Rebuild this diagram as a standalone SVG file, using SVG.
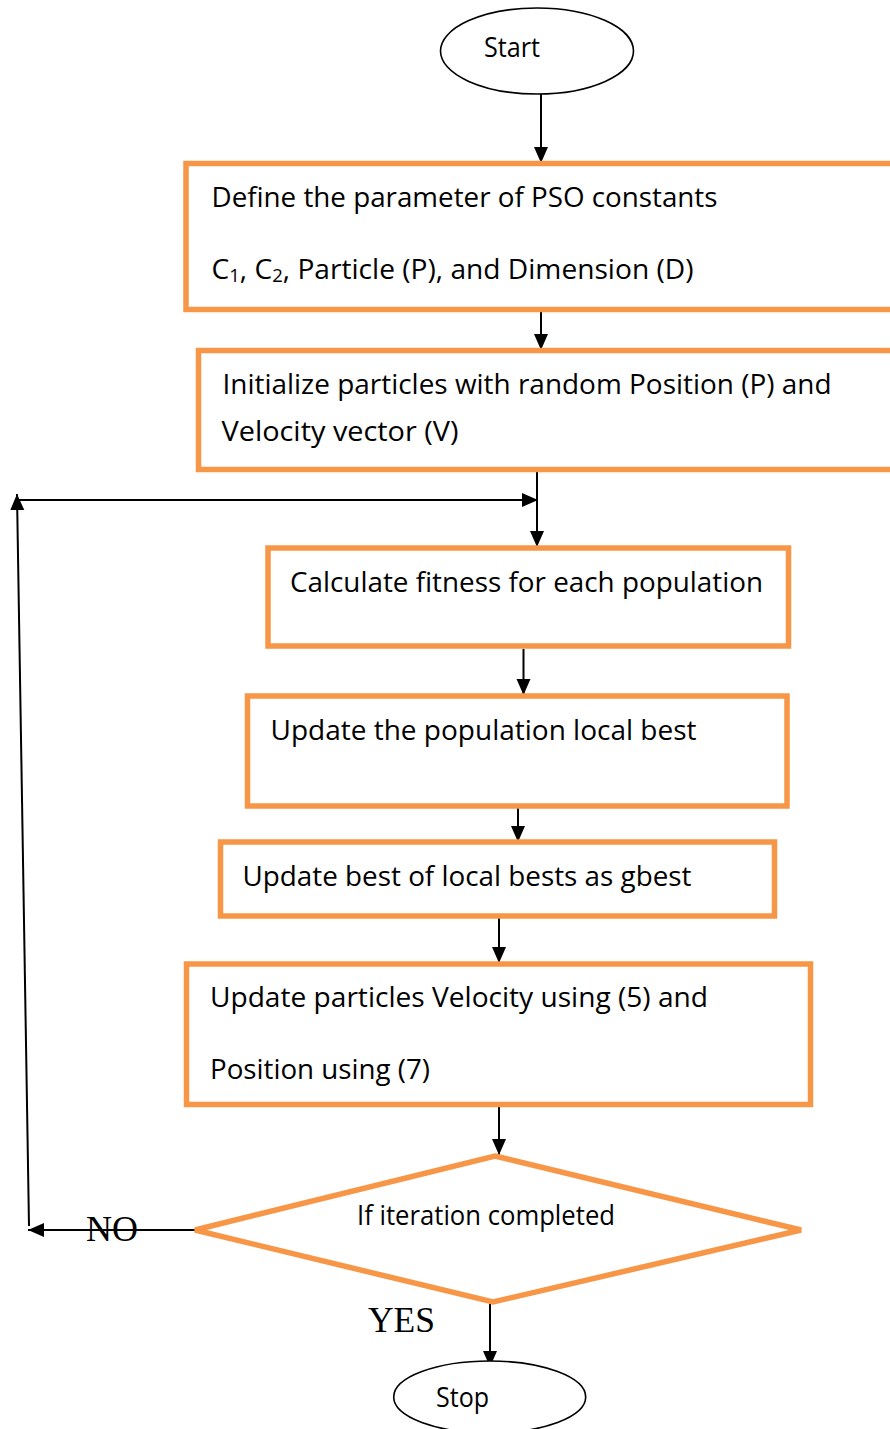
<svg xmlns="http://www.w3.org/2000/svg" width="890" height="1429" viewBox="0 0 890 1429">
  <style>
    .box { fill: #ffffff; stroke: #F79646; stroke-width: 5.5; }
    .term { fill: #ffffff; stroke: #000000; stroke-width: 1.6; }
    .lbl { font-family: "Open Sans", "Noto Sans", "Liberation Sans", sans-serif; font-size: 26.5px; fill: #000000; }
    .yn { font-family: "Liberation Serif", "Times New Roman", serif; font-size: 36px; fill: #000000; }
    .wire { fill: none; stroke: #000000; stroke-width: 2; }
  </style>
  <defs>
    <marker id="arrow" markerUnits="userSpaceOnUse" markerWidth="17" markerHeight="15" refX="16" refY="7" orient="auto">
      <path d="M0,0 L16,7 L0,14 Z" fill="#000000"/>
    </marker>
  </defs>

  <rect width="890" height="1429" fill="#ffffff"/>

  <!-- connectors -->
  <g id="connectors">
    <line class="wire" x1="541" y1="94" x2="541" y2="163" marker-end="url(#arrow)"/>
    <line class="wire" x1="541" y1="312" x2="541" y2="350" marker-end="url(#arrow)"/>
    <line class="wire" x1="537" y1="472" x2="537" y2="547" marker-end="url(#arrow)"/>
    <line class="wire" x1="523.5" y1="649" x2="523.5" y2="695" marker-end="url(#arrow)"/>
    <line class="wire" x1="518" y1="808" x2="518" y2="842" marker-end="url(#arrow)"/>
    <line class="wire" x1="499" y1="918" x2="499" y2="963" marker-end="url(#arrow)"/>
    <line class="wire" x1="499" y1="1107" x2="499" y2="1155" marker-end="url(#arrow)"/>
    <line class="wire" x1="490" y1="1304" x2="490" y2="1367" marker-end="url(#arrow)"/>
    <!-- NO branch loops back above the fitness step -->
    <line class="wire" x1="195" y1="1230" x2="28" y2="1230" marker-end="url(#arrow)"/>
    <line class="wire" x1="29" y1="1226" x2="17" y2="494" marker-end="url(#arrow)"/>
    <line class="wire" x1="17" y1="500" x2="538" y2="500" marker-end="url(#arrow)"/>
  </g>

  <g id="start">
    <ellipse class="term" cx="537" cy="51" rx="96.5" ry="43"/>
    <text class="lbl" x="484" y="57" textLength="56" lengthAdjust="spacingAndGlyphs">Start</text>
  </g>

  <g id="define-params">
    <rect class="box" x="186" y="163.5" width="720" height="146"/>
    <text class="lbl" x="211.5" y="207" textLength="506" lengthAdjust="spacingAndGlyphs">Define the parameter of PSO constants</text>
    <text class="lbl" x="211.5" y="278.5" textLength="482" lengthAdjust="spacingAndGlyphs">C<tspan font-size="17.5" dy="3">1</tspan><tspan dy="-3">, C</tspan><tspan font-size="17.5" dy="3">2</tspan><tspan dy="-3">, Particle (P), and Dimension (D)</tspan></text>
  </g>

  <g id="init-particles">
    <rect class="box" x="198.5" y="350.5" width="710" height="119"/>
    <text class="lbl" x="222.5" y="393.5" textLength="609" lengthAdjust="spacingAndGlyphs">Initialize particles with random Position (P) and</text>
    <text class="lbl" x="221.5" y="441" textLength="237" lengthAdjust="spacingAndGlyphs">Velocity vector (V)</text>
  </g>

  <g id="calc-fitness">
    <rect class="box" x="268" y="548" width="520.5" height="98"/>
    <text class="lbl" x="290" y="592" textLength="473" lengthAdjust="spacingAndGlyphs">Calculate fitness for each population</text>
  </g>

  <g id="update-local">
    <rect class="box" x="247.5" y="696" width="539.5" height="110"/>
    <text class="lbl" x="270.5" y="739.5" textLength="426" lengthAdjust="spacingAndGlyphs">Update the population local best</text>
  </g>

  <g id="update-gbest">
    <rect class="box" x="220.5" y="842" width="554" height="74"/>
    <text class="lbl" x="242.5" y="886" textLength="449" lengthAdjust="spacingAndGlyphs">Update best of local bests as gbest</text>
  </g>

  <g id="update-velocity">
    <rect class="box" x="186.5" y="964" width="624" height="140.5"/>
    <text class="lbl" x="210" y="1007" textLength="498" lengthAdjust="spacingAndGlyphs">Update particles Velocity using (5) and</text>
    <text class="lbl" x="210" y="1078.5" textLength="220" lengthAdjust="spacingAndGlyphs">Position using (7)</text>
  </g>

  <g id="iteration-check">
    <polygon class="box" points="495,1156 801,1230 493,1302 195,1230"/>
    <text class="lbl" x="357" y="1225" font-size="25.5" textLength="258" lengthAdjust="spacingAndGlyphs">If iteration completed</text>
  </g>

  <g id="branch-labels">
    <text class="yn" x="86" y="1241" textLength="52" lengthAdjust="spacingAndGlyphs">NO</text>
    <text class="yn" x="368" y="1332" textLength="67" lengthAdjust="spacingAndGlyphs">YES</text>
  </g>

  <g id="stop">
    <ellipse class="term" cx="489.7" cy="1397" rx="96" ry="36"/>
    <text class="lbl" x="436" y="1407" textLength="53" lengthAdjust="spacingAndGlyphs">Stop</text>
  </g>
</svg>
